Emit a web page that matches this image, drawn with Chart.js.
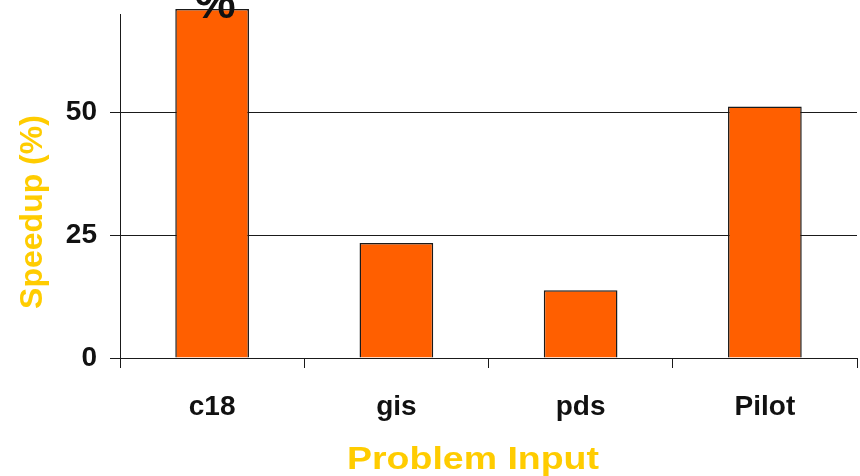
<!DOCTYPE html>
<html>
<head>
<meta charset="utf-8">
<script src="https://cdn.jsdelivr.net/npm/chart.js@4.4.1/dist/chart.umd.min.js"></script>
<style>
  html, body { margin: 0; padding: 0; background: #ffffff; }
  #wrap { width: 860px; height: 476px; position: relative; }
</style>
</head>
<body>
<div id="wrap"><canvas id="chart"></canvas></div>
<script>
// Speedup per problem input
const categories = ['c18', 'gis', 'pds', 'Pilot'];
const speedup = [71, 23.4, 13.8, 51.2];
const topLabels = ['%', '', '', ''];
const yTicks = [0, 25, 50];
const xTitle = 'Problem Input';
const yTitle = 'Speedup (%)';

const FONT = '"Liberation Sans", Arial, Helvetica, sans-serif';
const TITLE_COLOR = '#FFCC00';
const LINE_COLOR = '#1a1a1a';

// Bar labels plus the two axis titles
const decorations = {
  id: 'decorations',
  afterDatasetsDraw(chart) {
    const { ctx } = chart;
    const meta = chart.getDatasetMeta(0);
    ctx.save();
    ctx.fillStyle = '#111111';
    ctx.font = 'bold 46px ' + FONT;
    ctx.textAlign = 'center';
    ctx.textBaseline = 'alphabetic';
    meta.data.forEach((bar, i) => {
      if (topLabels[i]) ctx.fillText(topLabels[i], bar.x + 3, bar.y + 9);
    });
    ctx.restore();
  },
  afterDraw(chart) {
    const { ctx } = chart;
    ctx.save();
    ctx.fillStyle = TITLE_COLOR;
    ctx.textBaseline = 'alphabetic';
    ctx.textAlign = 'center';

    // x title, slightly widened like the slide font
    ctx.font = 'bold 31px ' + FONT;
    const w = ctx.measureText(xTitle).width;
    const sx = 252 / w;
    ctx.save();
    ctx.translate(473, 469);
    ctx.scale(sx, 1);
    ctx.fillText(xTitle, 0, 0);
    ctx.restore();

    // y title, rotated
    ctx.font = 'bold 32px ' + FONT;
    ctx.save();
    ctx.translate(42, 212);
    ctx.rotate(-Math.PI / 2);
    ctx.fillText(yTitle, 0, 0);
    ctx.restore();

    ctx.restore();
  }
};

new Chart(document.getElementById('chart'), {
  type: 'bar',
  data: {
    labels: categories,
    datasets: [{
      data: speedup,
      backgroundColor: '#FF5F00',
      borderColor: '#1a1a1a',
      borderWidth: 1.5,
      borderSkipped: 'bottom',
      categoryPercentage: 1.0,
      barPercentage: 0.4,
      clip: false
    }]
  },
  options: {
    responsive: true,
    maintainAspectRatio: false,
    animation: false,
    devicePixelRatio: 1,
    layout: { padding: { top: 14, right: 3, left: 0, bottom: 0 } },
    plugins: {
      legend: { display: false },
      tooltip: { enabled: false },
      title: { display: false }
    },
    scales: {
      x: {
        grid: {
          offset: true,
          drawOnChartArea: false,
          drawTicks: true,
          tickLength: 10,
          color: LINE_COLOR,
          lineWidth: 1
        },
        border: { display: true, color: LINE_COLOR, width: 1 },
        ticks: {
          color: '#111111',
          font: { family: FONT, size: 28, weight: 'bold' },
          padding: 22,
          maxRotation: 0,
          autoSkip: false
        },
        afterFit(scale) {
          scale.height = 118;
          scale.paddingLeft = 0;
          scale.paddingRight = 0;
        }
      },
      y: {
        min: 0,
        max: 70,
        grid: {
          drawOnChartArea: true,
          drawTicks: true,
          tickLength: 10,
          color: LINE_COLOR,
          lineWidth: 1
        },
        border: { display: true, color: LINE_COLOR, width: 1 },
        afterBuildTicks(scale) {
          scale.ticks = yTicks.map(v => ({ value: v }));
        },
        ticks: {
          color: '#111111',
          font: { family: FONT, size: 28, weight: 'bold' },
          padding: 13
        },
        afterFit(scale) {
          scale.width = 120;
          scale.paddingTop = 0;
          scale.paddingBottom = 0;
        }
      }
    }
  },
  plugins: [decorations]
});
</script>
</body>
</html>
